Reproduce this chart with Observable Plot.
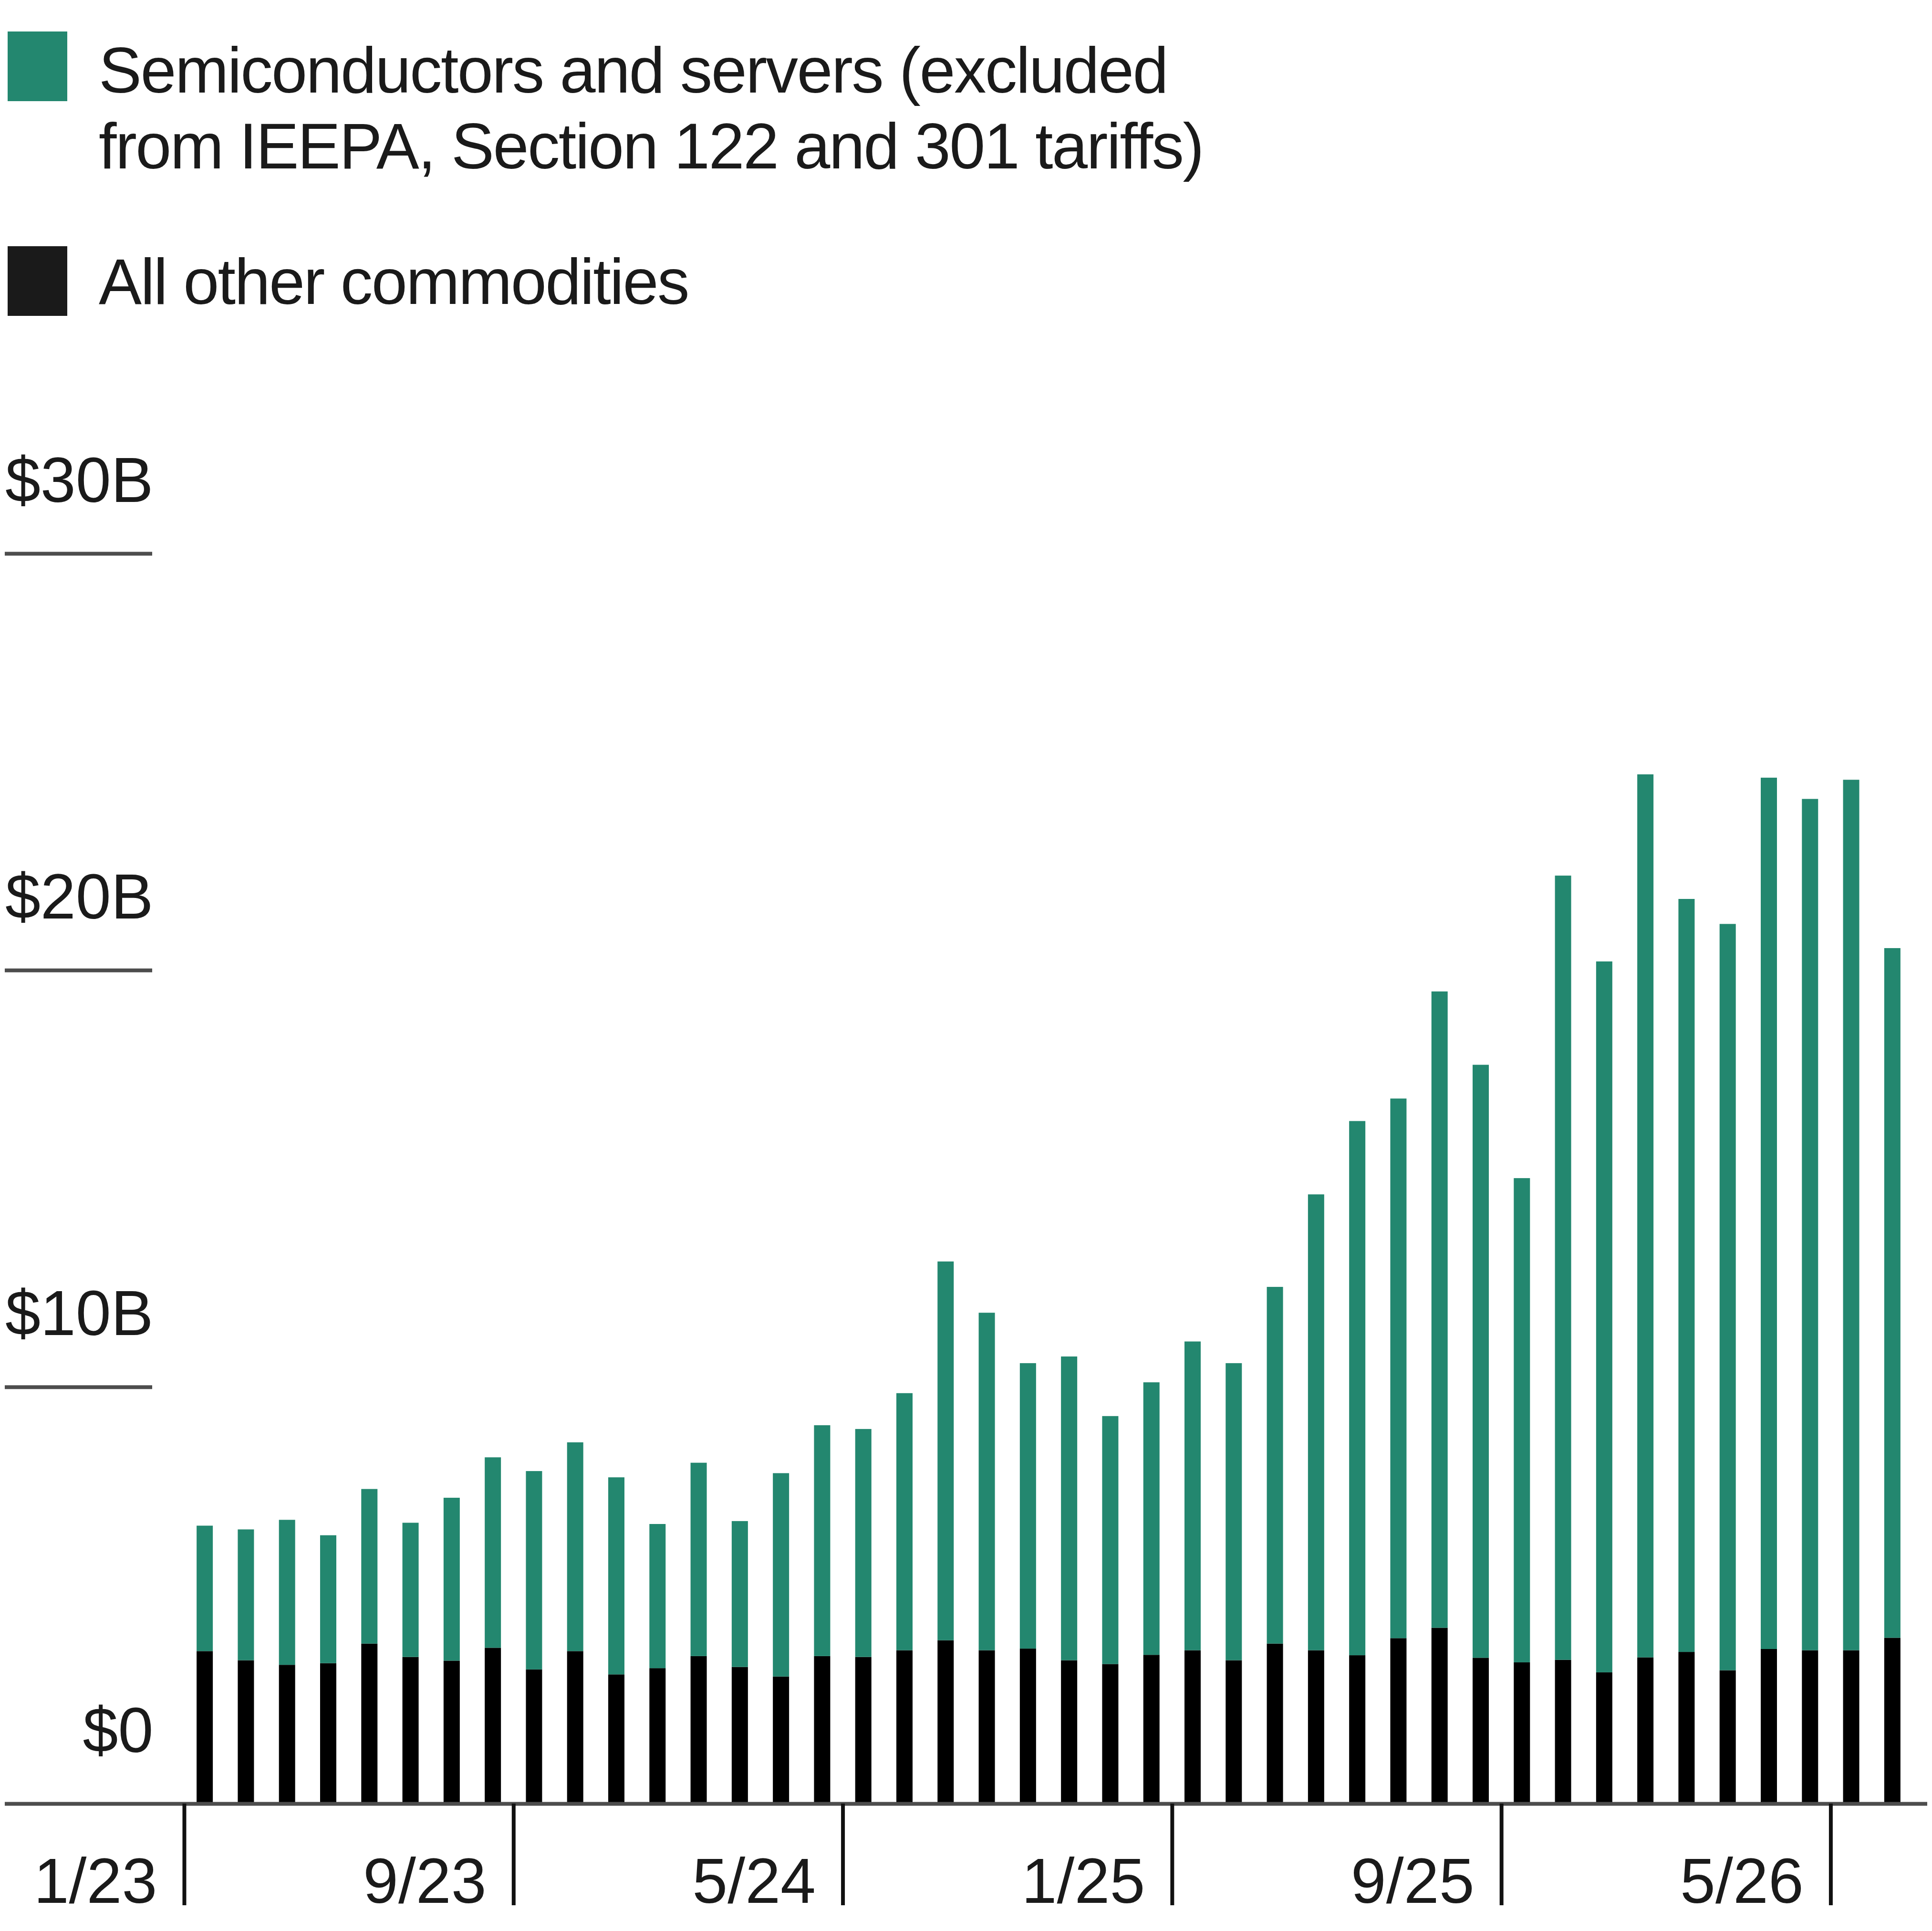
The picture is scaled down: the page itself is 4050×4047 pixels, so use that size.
<!DOCTYPE html>
<html>
<head>
<meta charset="utf-8">
<script src="https://cdn.jsdelivr.net/npm/d3@7"></script>
<script src="https://cdn.jsdelivr.net/npm/@observablehq/plot@0.6"></script>
<style>
  html, body { margin: 0; padding: 0; background: #fff; }
  #root { position: relative; width: 4050px; height: 4047px; font-family: "Liberation Sans", Arial, sans-serif; color: #1a1a1a; overflow: hidden; }
  #legend { position: relative; width: 4050px; height: 760px; }
  .sw { position: absolute; left: 16px; width: 125px; height: 146px; }
  .lt { position: absolute; left: 207px; font-size: 135px; line-height: 159px; letter-spacing: -2.6px; white-space: nowrap; }
  #chart svg { display: block; }
</style>
</head>
<body>
<div id="root">
  <div id="legend"></div>
  <div id="chart"></div>
</div>
<script>
// ---- Data ----
const months = [
  "2023-01","2023-02","2023-03","2023-04","2023-05","2023-06","2023-07","2023-08","2023-09","2023-10","2023-11","2023-12",
  "2024-01","2024-02","2024-03","2024-04","2024-05","2024-06","2024-07","2024-08","2024-09","2024-10","2024-11","2024-12",
  "2025-01","2025-02","2025-03","2025-04","2025-05","2025-06","2025-07","2025-08","2025-09","2025-10","2025-11","2025-12",
  "2026-01","2026-02","2026-03","2026-04","2026-05","2026-06"
];
// All other commodities ($B)
const otherValues = [
  3.66, 3.44, 3.33, 3.37, 3.84, 3.52, 3.43, 3.74, 3.22, 3.66, 3.10, 3.25,
  3.54, 3.28, 3.05, 3.54, 3.52, 3.68, 3.92, 3.68, 3.72, 3.44, 3.35, 3.57,
  3.68, 3.44, 3.84, 3.68, 3.56, 3.97, 4.22, 3.50, 3.39, 3.45, 3.15, 3.51,
  3.64, 3.20, 3.71, 3.68, 3.68, 3.98
];
// Semiconductors and servers ($B)
const semiValues = [
  3.01, 3.14, 3.48, 3.07, 3.71, 3.22, 3.91, 4.57, 4.76, 5.01, 4.73, 3.46,
  4.64, 3.50, 4.88, 5.54, 5.47, 6.17, 9.09, 8.10, 6.85, 7.29, 5.95, 6.54,
  7.41, 7.13, 8.56, 10.94, 12.82, 12.95, 15.27, 14.23, 11.62, 18.82, 17.06, 21.19,
  18.07, 17.91, 20.91, 20.43, 20.89, 16.55
];
const seriesKeys = ["other", "semi"];
const seriesColors = ["#000000", "#23876f"];
const legendSemiLines = ["Semiconductors and servers (excluded", "from IEEPA, Section 122 and 301 tariffs)"];
const legendOtherLines = ["All other commodities"];
const tickMonths = ["2023-01","2023-09","2024-05","2025-01","2025-09","2026-05"];
const tickLabels = ["1/23","9/23","5/24","1/25","9/25","5/26"];
const yTicks = [0, 10, 20, 30];
const yTickLabels = ["$0", "$10B", "$20B", "$30B"];

// ---- Legend (HTML, above the SVG) ----
const legend = document.getElementById("legend");
function addSwatch(color, top) {
  const d = document.createElement("div");
  d.className = "sw"; d.style.top = top + "px"; d.style.background = color;
  legend.appendChild(d);
}
function addText(lines, top) {
  const d = document.createElement("div");
  d.className = "lt"; d.style.top = top + "px";
  d.innerHTML = lines.map(s => s.replace(/&/g, "&amp;")).join("<br>");
  legend.appendChild(d);
}
addSwatch(seriesColors[1], 66);
addText(legendSemiLines, 68);
addSwatch("#1a1a1a", 516);
addText(legendOtherLines, 511);

// ---- Chart ----
const rows = months.flatMap((m, i) => [
  {month: m, series: "other", value: otherValues[i]},
  {month: m, series: "semi", value: semiValues[i]}
]);

const W = 4050, H = 3287;
const x0 = 386, x1 = 4010;
const step = (x1 - x0) / months.length;

const chart = Plot.plot({
  width: W,
  height: H,
  marginTop: 400,
  marginBottom: 267,
  marginLeft: 10,
  marginRight: 10,
  style: {fontFamily: "'Liberation Sans', Arial, sans-serif", fontSize: "133px", color: "#1a1a1a", background: "#fff", overflow: "visible"},
  x: {type: "band", domain: months, range: [x0, x1], paddingInner: 0.606, paddingOuter: 0.303, round: false, axis: null},
  y: {domain: [0, 30], axis: null},
  color: {domain: seriesKeys, range: seriesColors},
  marks: [
    Plot.ruleY(yTicks.filter(d => d > 0), {stroke: "#4d4d4d", strokeWidth: 8, insetRight: (W - 10) - 319}),
    Plot.barY(rows, {x: "month", y: "value", fill: "series", order: seriesKeys}),
    Plot.ruleY([0], {stroke: "#4d4d4d", strokeWidth: 8}),
    Plot.axisY({
      ticks: yTicks, tickSize: 0, tickPadding: 0, label: null,
      tickFormat: d => yTickLabels[yTicks.indexOf(d)],
      textAnchor: "end", lineAnchor: "bottom", dx: 311, dy: -109,
      fontSize: 133, fill: "#1a1a1a"
    }),
    Plot.axisX({
      ticks: tickMonths, tickSize: 213, tickFormat: () => "", label: null,
      stroke: "#111", strokeWidth: 8, dx: -step / 2
    }),
    Plot.axisX({
      ticks: tickMonths, tickSize: 0, tickPadding: 207, label: null,
      tickFormat: d => tickLabels[tickMonths.indexOf(d)],
      textAnchor: "end", lineAnchor: "bottom", dx: -step / 2 - 57,
      fontSize: 133, fill: "#1a1a1a"
    })
  ]
});
document.getElementById("chart").appendChild(chart);
</script>
</body>
</html>
